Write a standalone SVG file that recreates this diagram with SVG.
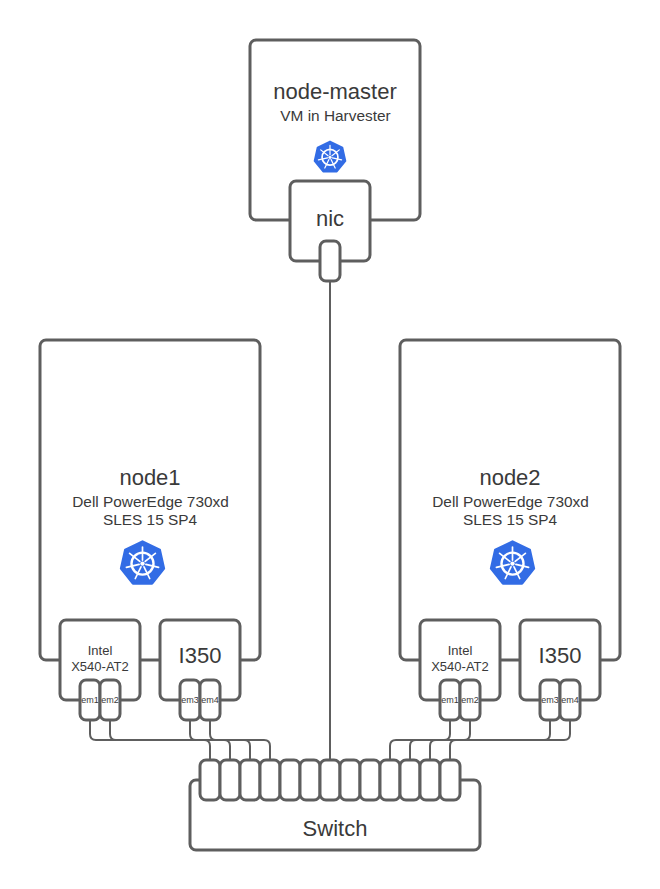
<svg xmlns="http://www.w3.org/2000/svg" xmlns:xlink="http://www.w3.org/1999/xlink" width="660" height="889" viewBox="0 0 660 889">
<style>
.box{fill:#fff;stroke:#5e5e5e;stroke-width:3}
.conn{fill:none;stroke:#5e5e5e;stroke-width:2}
text{font-family:"Liberation Sans",Arial,sans-serif;fill:#3a3a3a;text-anchor:middle}
.t22{font-size:22px}.t15{font-size:15.4px}.t13{font-size:13px}.t9{font-size:9px}
</style>
<defs>
<g id="k8s">
<path d="M0,-22 L17.2,-13.7 L21.4,4.9 L9.5,19.8 L-9.5,19.8 L-21.4,4.9 L-17.2,-13.7 Z" fill="#326ce5" stroke="#326ce5" stroke-width="2.5" stroke-linejoin="round"/>
<g fill="none" stroke="#fff">
<circle r="11" stroke-width="2.4"/>
<circle r="2.2" fill="#fff" stroke="none"/>
<path stroke-width="1.7" stroke-linecap="round" d="M0,-16.5V-3.5M12.9,-10.3L2.7,-2.2M16.1,3.7L3.4,.8M7.2,14.9L1.5,3.2M-7.2,14.9L-1.5,3.2M-16.1,3.700L-3.4,.8M-12.9,-10.3L-2.7,-2.2"/>
</g>
</g>
</defs>
<rect width="660" height="889" fill="#fff"/>
<g id="connectors" class="conn">
<path d="M330,281V760"/>
<path d="M90,720V734Q90,740 96,740H204Q210,740 210,746V760"/>
<path d="M110,720V734Q110,740 116,740H224Q230,740 230,746V760"/>
<path d="M190,720V734Q190,740 196,740H244Q250,740 250,746V760"/>
<path d="M210,720V734Q210,740 216,740H264Q270,740 270,746V760"/>
<path d="M450,720V734Q450,740 444,740H396Q390,740 390,746V760"/>
<path d="M470,720V734Q470,740 464,740H416Q410,740 410,746V760"/>
<path d="M550,720V734Q550,740 544,740H436Q430,740 430,746V760"/>
<path d="M570,720V734Q570,740 564,740H456Q450,740 450,746V760"/>
</g>
<g id="node-master">
<rect class="box" x="250" y="40" width="170" height="180" rx="6"/>
<text class="t22" x="335" y="99">node-master</text>
<text class="t15" x="335.500" y="121">VM in Harvester</text>
<use xlink:href="#k8s" href="#k8s" transform="translate(330,157.300) scale(.72)"/>
</g>
<g id="nic">
<rect class="box" x="290" y="181" width="80" height="80" rx="6"/>
<text class="t22" x="330" y="226">nic</text>
</g>
<g id="nic-port"><rect class="box" x="320" y="241" width="20" height="40" rx="6"/></g>
<g id="node1">
<rect class="box" x="40" y="340" width="220" height="320" rx="6"/>
<text class="t22" x="150" y="485">node1</text>
<text class="t15" x="150.500" y="507">Dell PowerEdge 730xd</text>
<text class="t15" x="150" y="525">SLES 15 SP4</text>
<use xlink:href="#k8s" href="#k8s" transform="translate(142.500,563.600)"/>
</g>
<g id="node2">
<rect class="box" x="400" y="340" width="220" height="320" rx="6"/>
<text class="t22" x="510" y="485">node2</text>
<text class="t15" x="510.500" y="507">Dell PowerEdge 730xd</text>
<text class="t15" x="510" y="525">SLES 15 SP4</text>
<use xlink:href="#k8s" href="#k8s" transform="translate(512.500,563.600)"/>
</g>
<g id="node1-intel">
<rect class="box" x="60" y="620" width="80" height="80" rx="6"/>
<text class="t13" x="100" y="655">Intel</text>
<text class="t13" x="100" y="671">X540-AT2</text>
</g>
<g id="node1-i350">
<rect class="box" x="160" y="620" width="80" height="80" rx="6"/>
<text class="t22" x="200" y="663">I350</text>
</g>
<g id="node2-intel">
<rect class="box" x="420" y="620" width="80" height="80" rx="6"/>
<text class="t13" x="460" y="655">Intel</text>
<text class="t13" x="460" y="671">X540-AT2</text>
</g>
<g id="node2-i350">
<rect class="box" x="520" y="620" width="80" height="80" rx="6"/>
<text class="t22" x="560" y="663">I350</text>
</g>
<g id="node1-em1"><rect class="box" x="80" y="680" width="20" height="40" rx="6"/><text class="t9" x="90" y="703">em1</text></g>
<g id="node1-em2"><rect class="box" x="100" y="680" width="20" height="40" rx="6"/><text class="t9" x="110" y="703">em2</text></g>
<g id="node1-em3"><rect class="box" x="180" y="680" width="20" height="40" rx="6"/><text class="t9" x="190" y="703">em3</text></g>
<g id="node1-em4"><rect class="box" x="200" y="680" width="20" height="40" rx="6"/><text class="t9" x="210" y="703">em4</text></g>
<g id="node2-em1"><rect class="box" x="440" y="680" width="20" height="40" rx="6"/><text class="t9" x="450" y="703">em1</text></g>
<g id="node2-em2"><rect class="box" x="460" y="680" width="20" height="40" rx="6"/><text class="t9" x="470" y="703">em2</text></g>
<g id="node2-em3"><rect class="box" x="540" y="680" width="20" height="40" rx="6"/><text class="t9" x="550" y="703">em3</text></g>
<g id="node2-em4"><rect class="box" x="560" y="680" width="20" height="40" rx="6"/><text class="t9" x="570" y="703">em4</text></g>
<g id="switch">
<rect class="box" x="190" y="780" width="290" height="70" rx="6"/>
<text class="t22" x="335" y="836">Switch</text>
</g>
<g id="switch-ports">
<rect class="box" x="200" y="760" width="20" height="40" rx="6"/>
<rect class="box" x="220" y="760" width="20" height="40" rx="6"/>
<rect class="box" x="240" y="760" width="20" height="40" rx="6"/>
<rect class="box" x="260" y="760" width="20" height="40" rx="6"/>
<rect class="box" x="280" y="760" width="20" height="40" rx="6"/>
<rect class="box" x="300" y="760" width="20" height="40" rx="6"/>
<rect class="box" x="320" y="760" width="20" height="40" rx="6"/>
<rect class="box" x="340" y="760" width="20" height="40" rx="6"/>
<rect class="box" x="360" y="760" width="20" height="40" rx="6"/>
<rect class="box" x="380" y="760" width="20" height="40" rx="6"/>
<rect class="box" x="400" y="760" width="20" height="40" rx="6"/>
<rect class="box" x="420" y="760" width="20" height="40" rx="6"/>
<rect class="box" x="440" y="760" width="20" height="40" rx="6"/>
</g>
</svg>
